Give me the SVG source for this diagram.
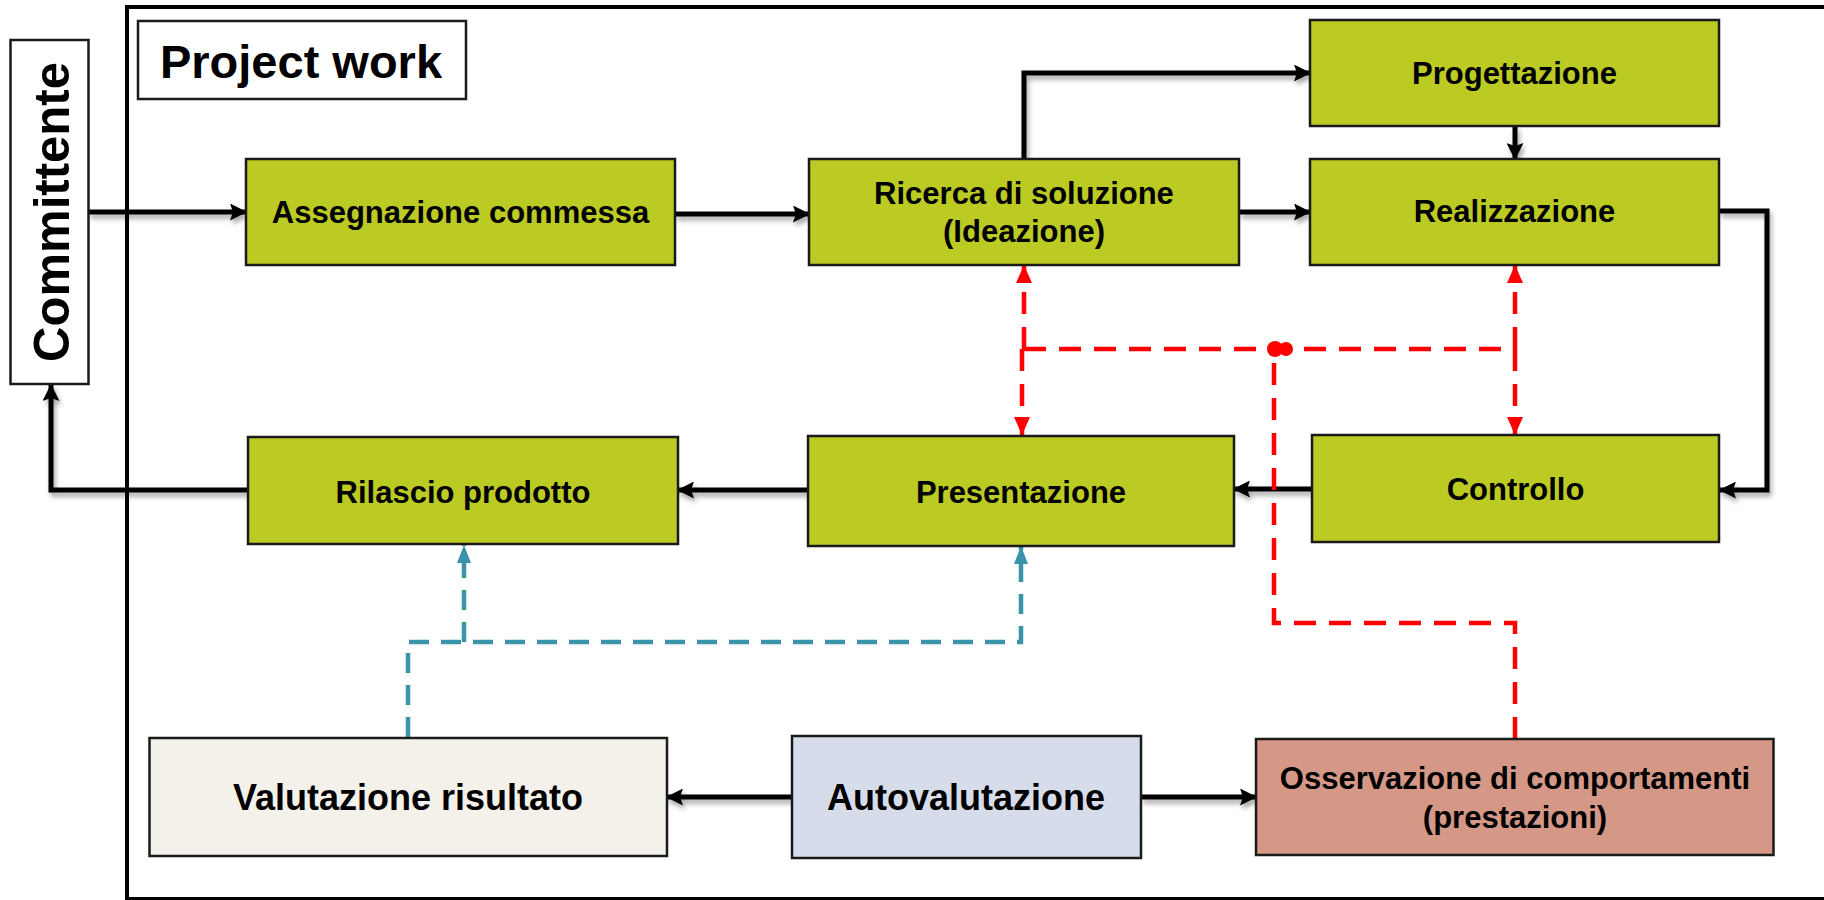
<svg xmlns="http://www.w3.org/2000/svg" width="1824" height="900" viewBox="0 0 1824 900">
<style>
.box{stroke:#1a1a1a;stroke-width:2.5}
.g{fill:#bccb23}
.t{font-family:"Liberation Sans",Arial,sans-serif;font-weight:bold;fill:#000;text-anchor:middle}
.blk{fill:none;stroke:#000;stroke-width:5;filter:url(#sh)}
.red{fill:none;stroke:#ff0000;stroke-width:4.5;stroke-dasharray:22 13}
.blue{fill:none;stroke:#3a93a8;stroke-width:4.5;stroke-dasharray:20 12}
</style>
<defs>
<filter id="sh" filterUnits="userSpaceOnUse" x="0" y="0" width="1824" height="900">
<feDropShadow dx="2" dy="4" stdDeviation="2.5" flood-color="#000" flood-opacity="0.35"/>
</filter>
<marker id="ab" markerUnits="userSpaceOnUse" markerWidth="17" markerHeight="17" refX="16" refY="8.5" orient="auto">
<path d="M0,0 L17,8.5 L0,17 L3,8.5 z" fill="#000"/>
</marker>
<marker id="ar" markerUnits="userSpaceOnUse" markerWidth="18" markerHeight="16" refX="18" refY="8" orient="auto">
<path d="M0,0 L18,8 L0,16 z" fill="#ff0000"/>
</marker>
<marker id="au" markerUnits="userSpaceOnUse" markerWidth="18" markerHeight="14" refX="18" refY="7" orient="auto">
<path d="M0,0 L18,7 L0,14 z" fill="#3a93a8"/>
</marker>
</defs>
<rect width="1824" height="900" fill="#fff"/>
<rect x="127" y="7" width="1730" height="892" fill="none" stroke="#000" stroke-width="4"/>

<g id="connectors">
<path class="blk" d="M88,212 H246" marker-end="url(#ab)"/>
<path class="blk" d="M675,214 H809" marker-end="url(#ab)"/>
<path class="blk" d="M1239,212 H1310" marker-end="url(#ab)"/>
<path class="blk" d="M1024,159 V73 H1310" marker-end="url(#ab)"/>
<path class="blk" d="M1515,126 V159" marker-end="url(#ab)"/>
<path class="blk" d="M1719,211 H1767 V490 H1720" marker-end="url(#ab)"/>
<path class="blk" d="M1312,489 H1234" marker-end="url(#ab)"/>
<path class="blk" d="M808,490 H678" marker-end="url(#ab)"/>
<path class="blk" d="M248,490 H51 V385" marker-end="url(#ab)"/>
<path class="blk" d="M792,797 H667" marker-end="url(#ab)"/>
<path class="blk" d="M1141,797 H1256" marker-end="url(#ab)"/>
<path class="red" d="M1024,349 V265" marker-end="url(#ar)"/>
<path class="red" d="M1022,349 V435" marker-end="url(#ar)"/>
<path class="red" d="M1024,349 H1515"/>
<path class="red" d="M1515,349 V265" marker-end="url(#ar)"/>
<path class="red" d="M1515,349 V435" marker-end="url(#ar)"/>
<path class="red" d="M1274,349 V623 H1515 V739" stroke-dashoffset="21"/>
<circle cx="1275" cy="349" r="8" fill="#ff0000"/>
<circle cx="1286" cy="349" r="7" fill="#ff0000"/>
<path class="blue" d="M408,737 V642 H1021 V546" marker-end="url(#au)"/>
<path class="blue" d="M464,642 V545" marker-end="url(#au)"/>
</g>

<g id="committente">
<rect x="10.5" y="40" width="78" height="344" fill="#fff" class="box"/>
<text class="t" transform="translate(69,212) rotate(-90)" font-size="50" textLength="300" lengthAdjust="spacingAndGlyphs">Committente</text>
</g>
<g id="project-work">
<rect x="138" y="21" width="328" height="78" fill="#fff" class="box"/>
<text class="t" x="301" y="78" font-size="47">Project work</text>
</g>
<g id="assegnazione">
<rect x="246" y="159" width="429" height="106" class="box g"/>
<text class="t" x="460.5" y="223" font-size="31">Assegnazione commessa</text>
</g>
<g id="ricerca">
<rect x="809" y="159" width="430" height="106" class="box g"/>
<text class="t" x="1024" y="204" font-size="31">Ricerca di soluzione</text>
<text class="t" x="1024" y="242" font-size="31">(Ideazione)</text>
</g>
<g id="progettazione">
<rect x="1310" y="20" width="409" height="106" class="box g"/>
<text class="t" x="1514.5" y="84" font-size="31">Progettazione</text>
</g>
<g id="realizzazione">
<rect x="1310" y="159" width="409" height="106" class="box g"/>
<text class="t" x="1514.5" y="222" font-size="31">Realizzazione</text>
</g>
<g id="controllo">
<rect x="1312" y="435" width="407" height="107" class="box g"/>
<text class="t" x="1515.5" y="500" font-size="31">Controllo</text>
</g>
<g id="presentazione">
<rect x="808" y="436" width="426" height="110" class="box g"/>
<text class="t" x="1021" y="503" font-size="31">Presentazione</text>
</g>
<g id="rilascio">
<rect x="248" y="437" width="430" height="107" class="box g"/>
<text class="t" x="463" y="503" font-size="31">Rilascio prodotto</text>
</g>
<g id="valutazione">
<rect x="149.5" y="738" width="517.5" height="118" fill="#f3f1e9" class="box"/>
<text class="t" x="408" y="810" font-size="36">Valutazione risultato</text>
</g>
<g id="autovalutazione">
<rect x="792" y="736" width="349" height="122" fill="#d6dcea" class="box"/>
<text class="t" x="966" y="810" font-size="36">Autovalutazione</text>
</g>
<g id="osservazione">
<rect x="1256" y="739" width="517.5" height="116" fill="#d59886" class="box"/>
<text class="t" x="1515" y="789" font-size="31">Osservazione di comportamenti</text>
<text class="t" x="1515" y="828" font-size="31">(prestazioni)</text>
</g>
</svg>
